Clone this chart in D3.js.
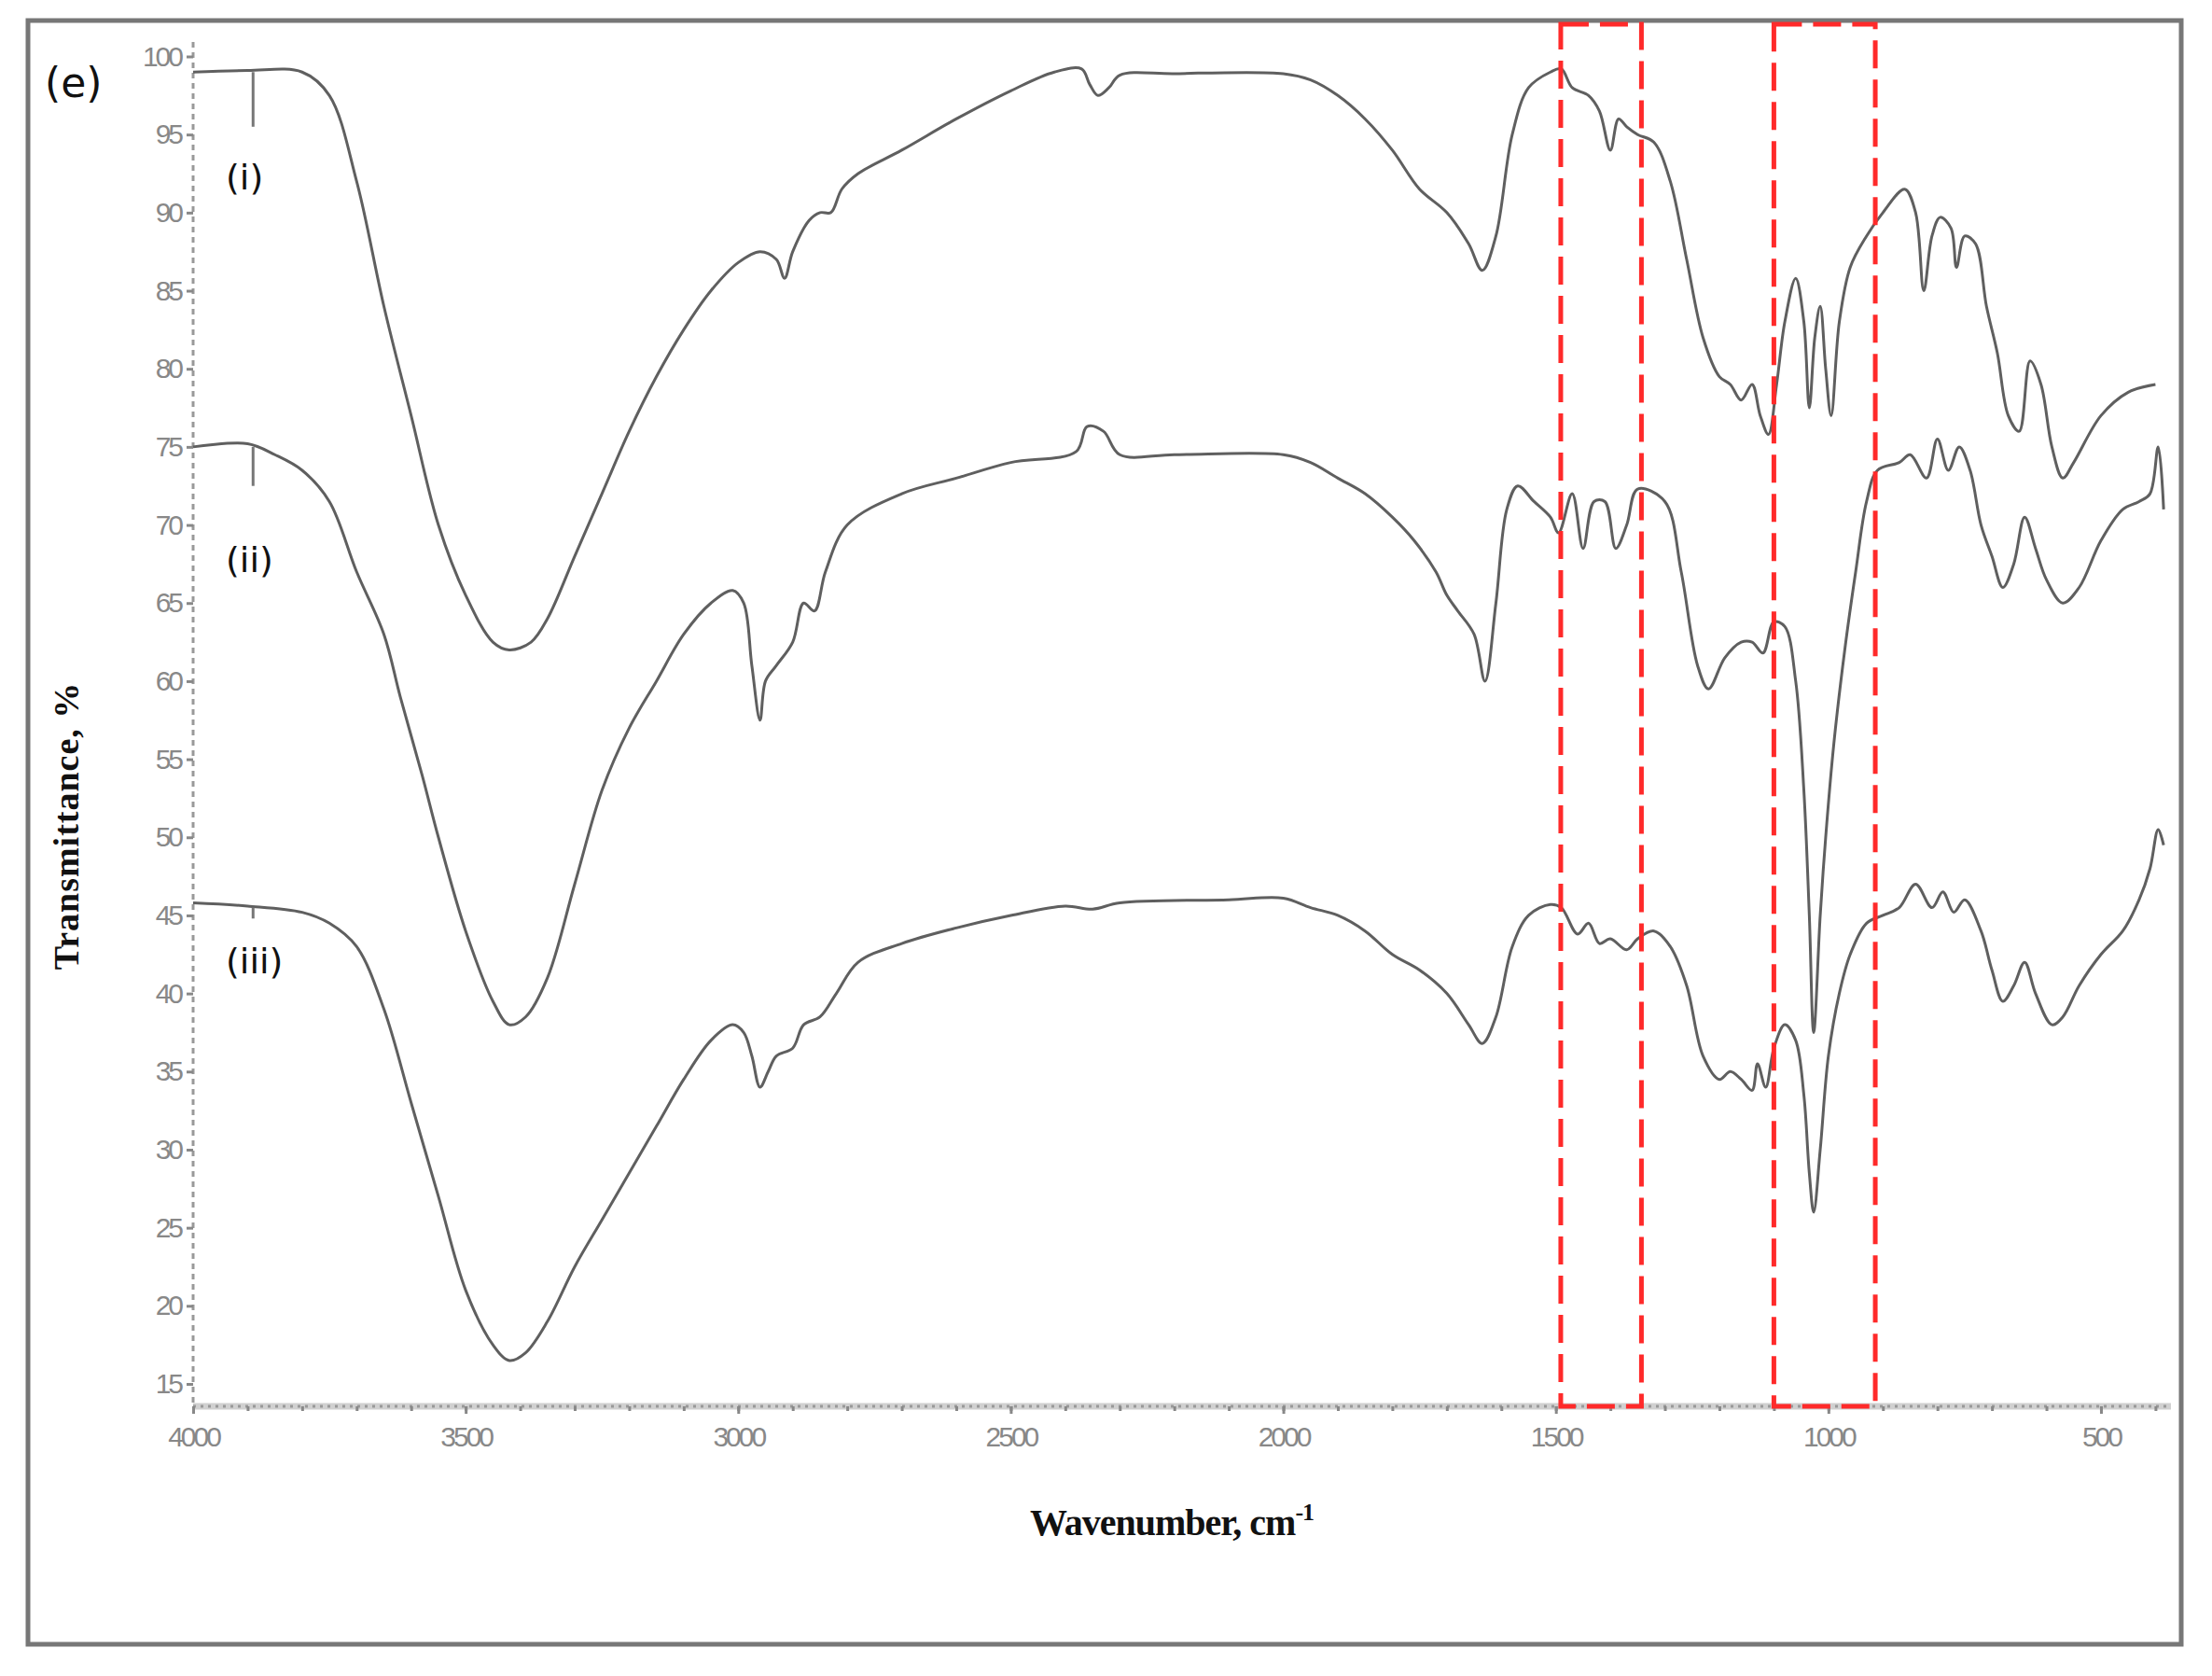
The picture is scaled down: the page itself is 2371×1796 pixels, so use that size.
<!DOCTYPE html>
<html>
<head>
<meta charset="utf-8">
<script src="https://cdn.jsdelivr.net/npm/d3@7"></script>
<style>
body { margin: 0; background: #fff; }
</style>
</head>
<body>
<svg width="2371" height="1796"></svg>
<script>
// spectra as [wavenumber, transmittance %]
var spectrumI = [[4000,99],[3900,99.1],[3800,99],[3750,97.5],[3700,92],[3650,84],[3600,77],[3550,70],[3500,65.5],[3450,62.5],[3420,62],[3380,62.5],[3350,64],[3300,68],[3250,72],[3200,76],[3150,79.5],[3100,82.5],[3050,85],[3000,86.8],[2960,87.5],[2930,87],[2915,85.8],[2900,87.5],[2870,89.5],[2850,90],[2830,90],[2810,91.5],[2780,92.5],[2700,94],[2600,96],[2500,97.8],[2420,99],[2370,99.2],[2355,98.2],[2340,97.5],[2320,98],[2300,98.8],[2200,98.9],[2000,98.9],[1950,98.5],[1900,97.5],[1850,96],[1800,94],[1750,91.5],[1700,90],[1660,88],[1635,86.3],[1610,88.5],[1580,95],[1550,98],[1510,99],[1490,99.2],[1470,98],[1440,97.5],[1420,96.5],[1400,94],[1385,96],[1370,95.5],[1350,95],[1320,94.5],[1290,92],[1260,87],[1230,82],[1200,79.5],[1180,79],[1160,78],[1140,79],[1125,77],[1110,75.8],[1095,79],[1080,83],[1060,85.8],[1045,83],[1035,77.5],[1025,82],[1015,84],[1005,80],[995,77],[980,83],[960,86.5],[930,88.5],[900,90],[860,91.5],[840,90],[825,85],[810,88.5],[795,89.7],[775,89],[765,86.5],[750,88.5],[730,88],[710,84],[690,81],[670,77],[650,76],[630,80.5],[610,79],[590,75],[570,73],[550,74],[500,77],[450,78.5],[400,79]];
var spectrumII = [[4000,75],[3900,75.2],[3850,74.5],[3800,73.5],[3750,71.5],[3700,67],[3650,63],[3620,59],[3580,54],[3550,50],[3500,44],[3450,39.5],[3420,38],[3390,38.5],[3350,41],[3300,47],[3250,53],[3200,57],[3150,60],[3100,63],[3050,65],[3010,65.8],[2990,65],[2975,61],[2960,57.5],[2950,60],[2930,61],[2900,62.5],[2880,65],[2860,64.5],[2840,67],[2800,70],[2700,72],[2600,73],[2500,74],[2380,74.7],[2360,76.3],[2330,76],[2300,74.5],[2200,74.5],[2000,74.5],[1950,74],[1900,73],[1850,72],[1800,70.5],[1760,69],[1720,67],[1700,65.5],[1680,64.5],[1650,63],[1630,60],[1610,65],[1590,71],[1570,72.5],[1540,71.5],[1510,70.5],[1495,69.5],[1470,72],[1450,68.5],[1430,71.5],[1410,71.5],[1390,68.5],[1370,70],[1350,72.3],[1300,71.5],[1270,67],[1240,61],[1220,59.5],[1190,61.5],[1160,62.5],[1140,62.5],[1120,61.8],[1100,63.8],[1080,63.5],[1060,60],[1045,53],[1035,45],[1027,37.5],[1015,45],[1005,50],[990,56],[970,62],[950,67],[930,71.5],[910,73.5],[870,74],[850,74.5],[820,73],[800,75.5],[780,73.5],[760,75],[740,73.5],[720,70],[700,68],[680,66],[660,67.5],[640,70.5],[620,68.5],[600,66.5],[570,65],[540,66],[500,69],[460,71],[430,71.5],[410,72],[395,75],[385,71]];
var spectrumIII = [[4000,45.8],[3900,45.6],[3800,45.2],[3750,44.5],[3700,43],[3650,39],[3600,33],[3550,27],[3500,21],[3450,17.5],[3420,16.5],[3390,17],[3350,19],[3300,22.5],[3250,25.5],[3200,28.5],[3150,31.5],[3100,34.5],[3050,37],[3010,38],[2990,37.5],[2975,36],[2960,34],[2945,35],[2930,36],[2900,36.5],[2880,38],[2850,38.5],[2820,40],[2780,42],[2700,43.2],[2600,44.2],[2500,45],[2400,45.6],[2350,45.4],[2300,45.8],[2100,46],[2000,46.1],[1950,45.5],[1900,45],[1850,44],[1800,42.5],[1750,41.5],[1700,40],[1660,38],[1635,36.8],[1610,38.5],[1580,43],[1550,45],[1510,45.7],[1490,45.5],[1460,43.8],[1440,44.5],[1420,43.2],[1400,43.5],[1370,42.8],[1350,43.5],[1320,44],[1290,43],[1260,40.5],[1230,36],[1200,34.5],[1180,35],[1160,34.5],[1140,33.8],[1130,35.5],[1115,34],[1100,36.5],[1080,38],[1060,37],[1045,33.5],[1035,28.5],[1027,26],[1015,30],[1000,36],[980,40],[960,42.5],[930,44.5],[900,45],[870,45.5],[840,47],[810,45.5],[790,46.5],[770,45.2],[750,46],[720,44],[700,41.5],[680,39.5],[660,40.5],[640,42],[620,40],[590,38],[570,38.5],[540,40.5],[500,42.5],[460,44],[430,46],[410,48],[395,50.5],[385,49.5]];
var seriesLabels = ["(i)", "(ii)", "(iii)"];
var labelPos = [[3940, 91.5], [3940, 67], [3940, 41.3]];
// small vertical marker strokes at start of each trace
var markers = [[3890, 99, 95.5], [3890, 75, 72.5], [3890, 45.5, 44.8]];
// highlighted regions (red dashed boxes)
var regions = [[1491, 1343], [1100, 914]];
var xTicks = [4000, 3500, 3000, 2500, 2000, 1500, 1000, 500];
var yTicks = [15, 20, 25, 30, 35, 40, 45, 50, 55, 60, 65, 70, 75, 80, 85, 90, 95, 100];

var svg = d3.select("svg");
var x = d3.scaleLinear().domain([4000, 375]).range([207, 2325]);
var y = d3.scaleLinear().domain([15, 100]).range([1483, 60.5]);
var yBottom = 1507, yTop = 45;

// outer frame
svg.append("rect").attr("x", 30).attr("y", 22).attr("width", 2308).attr("height", 1740)
  .attr("fill", "none").attr("stroke", "#777").attr("stroke-width", 5);

// axes
svg.append("line").attr("x1", 207).attr("x2", 2327).attr("y1", yBottom).attr("y2", yBottom)
  .attr("stroke", "#d0d0d0").attr("stroke-width", 7);
svg.append("line").attr("x1", 207).attr("x2", 2327).attr("y1", yBottom).attr("y2", yBottom)
  .attr("stroke", "#999").attr("stroke-width", 3).attr("stroke-dasharray", "3,5");
svg.append("line").attr("x1", 207).attr("x2", 207).attr("y1", yTop).attr("y2", yBottom)
  .attr("stroke", "#999").attr("stroke-width", 3).attr("stroke-dasharray", "6,5");

var xAxis = svg.append("g").attr("transform", "translate(0," + yBottom + ")")
  .call(d3.axisBottom(x).tickValues(xTicks).tickSize(8).tickPadding(14).tickFormat(d3.format("d")));
svg.append("g").attr("transform", "translate(0," + yBottom + ")")
  .call(d3.axisBottom(x).tickValues(d3.range(4000, 375, -100)).tickSize(5).tickFormat(""));
var yAxis = svg.append("g").attr("transform", "translate(207,0)")
  .call(d3.axisLeft(y).tickValues(yTicks).tickSize(7).tickPadding(6));
[xAxis, yAxis].forEach(function(a) {
  a.selectAll("text").attr("fill", "#888").attr("font-family", "Liberation Sans")
    .attr("font-size", 30).attr("letter-spacing", -3);
});
svg.selectAll(".tick line").attr("stroke", "#888").attr("stroke-width", 3);
svg.selectAll(".domain").remove();

// spectra
var line = d3.line().x(function(d){ return x(d[0]); }).y(function(d){ return y(d[1]); })
  .curve(d3.curveCatmullRom.alpha(0.5));
[spectrumI, spectrumII, spectrumIII].forEach(function(s) {
  svg.append("path").datum(s).attr("d", line)
    .attr("fill", "none").attr("stroke", "#5f5f5f").attr("stroke-width", 3);
});
markers.forEach(function(m) {
  svg.append("line").attr("x1", x(m[0])).attr("x2", x(m[0])).attr("y1", y(m[1])).attr("y2", y(m[2]))
    .attr("stroke", "#777").attr("stroke-width", 3);
});

// labels
seriesLabels.forEach(function(t, i) {
  svg.append("text").attr("x", x(labelPos[i][0])).attr("y", y(labelPos[i][1]))
    .attr("font-family", "DejaVu Sans").attr("font-size", 38).attr("fill", "#111").text(t);
});
svg.append("text").attr("x", 48).attr("y", 104).attr("font-family", "DejaVu Sans")
  .attr("font-size", 44).attr("fill", "#111").text("(e)");

// red dashed regions
regions.forEach(function(r) {
  svg.append("rect").attr("x", x(r[0])).attr("y", 26)
    .attr("width", x(r[1]) - x(r[0])).attr("height", yBottom - 26)
    .attr("fill", "none").attr("stroke", "#ff2a2a").attr("stroke-width", 5)
    .attr("stroke-dasharray", "30,12");
});

// axis titles
var xt = svg.append("text").attr("x", 1256).attr("y", 1645).attr("text-anchor", "middle")
  .attr("font-family", "Liberation Serif").attr("font-weight", "bold").attr("font-size", 40)
  .attr("fill", "#111").attr("letter-spacing", -1).text("Wavenumber, cm");
xt.append("tspan").attr("font-size", 26).attr("dy", -16).text("-1");
svg.append("text").attr("transform", "translate(84,885) rotate(-90)").attr("text-anchor", "middle")
  .attr("font-family", "Liberation Serif").attr("font-weight", "bold").attr("font-size", 38)
  .attr("fill", "#111").attr("letter-spacing", 1).text("Transmittance, %");
</script>
</body>
</html>
